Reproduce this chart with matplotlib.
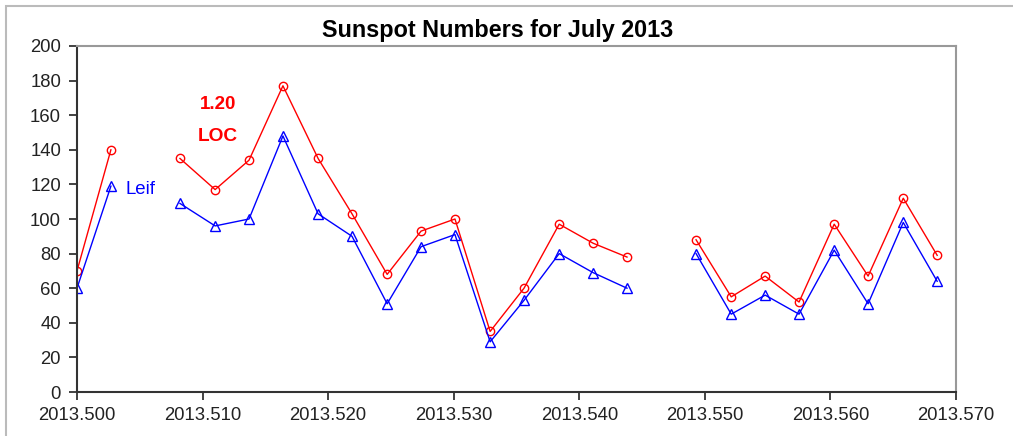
import matplotlib
matplotlib.use("Agg")
import matplotlib.pyplot as plt
from matplotlib.patches import Rectangle

plt.rcParams['font.family'] = ['Liberation Sans', 'DejaVu Sans']

# decimal year of each observation
years = [2013.5000, 2013.5027, 2013.5082, 2013.5110, 2013.5137, 2013.5164,
         2013.5192, 2013.5219, 2013.5247, 2013.5274, 2013.5301, 2013.5329,
         2013.5356, 2013.5384, 2013.5411, 2013.5438, 2013.5493, 2013.5521,
         2013.5548, 2013.5575, 2013.5603, 2013.5630, 2013.5658, 2013.5685]
loc_values = [70, 140, 135, 117, 134, 177, 135, 103, 68, 93, 100, 35,
              60, 97, 86, 78, 88, 55, 67, 52, 97, 67, 112, 79]
leif_values = [60, 119, 109, 96, 100, 148, 103, 90, 51, 84, 91, 29,
               53, 80, 69, 60, 80, 45, 56, 45, 82, 51, 98, 64]
# segments are broken where days are missing
segments = [(0, 2), (2, 16), (16, 24)]

x_ticks = [2013.500, 2013.510, 2013.520, 2013.530, 2013.540, 2013.550, 2013.560, 2013.570]
x_tick_labels = ["2013.500", "2013.510", "2013.520", "2013.530",
                 "2013.540", "2013.550", "2013.560", "2013.570"]
y_ticks = [0, 20, 40, 60, 80, 100, 120, 140, 160, 180, 200]

fig = plt.figure(figsize=(10.13, 4.36), dpi=100)
ax = fig.add_axes([77/1013, 1-392/436, (956-77)/1013, (392-46)/436])

for a, b in segments:
    ax.plot(years[a:b], loc_values[a:b], color='#FF0000', lw=1.0,
            marker='o', markersize=6, markerfacecolor='none',
            markeredgecolor='#FF0000', markeredgewidth=1.0)
    ax.plot(years[a:b], leif_values[a:b], color='#0000FF', lw=1.0,
            marker='^', markersize=7.5, markerfacecolor='none',
            markeredgecolor='#0000FF', markeredgewidth=1.0)

ax.set_xlim(2013.500, 2013.570)
ax.set_ylim(0, 200)
ax.set_xticks(x_ticks)
ax.set_xticklabels(x_tick_labels)
ax.set_yticks(y_ticks)
ax.tick_params(axis='both', direction='out', length=6, width=1.2,
               labelsize=13.3, colors='#222222')
ax.tick_params(axis='y', pad=5.5)
ax.tick_params(axis='x', pad=5)

for s in ['left', 'bottom']:
    ax.spines[s].set_color('#333333')
    ax.spines[s].set_linewidth(1.5)
for s in ['top', 'right']:
    ax.spines[s].set_color('#999999')
    ax.spines[s].set_linewidth(1.5)

ax.text(2013.5112, 166, "1.20", color='#FF0000', fontsize=13.5,
        fontweight='bold', ha='center', va='center')
ax.text(2013.5112, 147.5, "LOC", color='#FF0000', fontsize=13.8,
        fontweight='bold', ha='center', va='center')
ax.text(2013.5039, 117, "Leif", color='#0000FF', fontsize=13.4,
        ha='left', va='center')

fig.text(498/1013, 1-30/436, "Sunspot Numbers for July 2013",
         fontsize=16.8, fontweight='bold', ha='center', va='center')

fig.patches.append(Rectangle((6/1013, -0.1), 1.2, 1 - 6/436 + 0.1,
                             transform=fig.transFigure, fill=False,
                             edgecolor='#BBBBBB', lw=1.5))

fig.savefig("out.png", dpi=100)
